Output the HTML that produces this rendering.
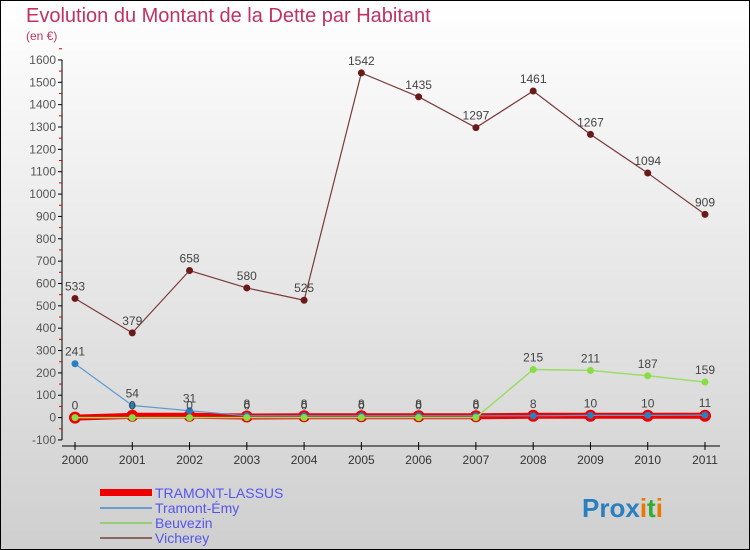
<!DOCTYPE html>
<html><head><meta charset="utf-8"><style>
body{margin:0}
#c{width:750px;height:550px;position:relative;font-family:"Liberation Sans",sans-serif;background:linear-gradient(#fff,#cfcfcf);box-sizing:border-box;border:1px solid #000;overflow:hidden}
</style></head><body>
<div id="c">
<svg id="s" width="750" height="550" style="position:absolute;left:-1px;top:-1px">
<text x="26" y="22" font-size="20" fill="#c0335f">Evolution du Montant de la Dette par Habitant</text>
<text x="26" y="40" font-size="12" fill="#c0335f">(en €)</text>
<g id="axes"></g><g id="series"></g>
<g>
<rect x="100" y="489" width="52" height="7" fill="#e00"/>
<text x="155" y="498" font-size="14" fill="#5555ee">TRAMONT-LASSUS</text>
<rect x="100" y="507" width="52" height="2" fill="#6a9ec8"/>
<text x="155" y="513" font-size="14" fill="#5555ee">Tramont-Émy</text>
<rect x="100" y="522" width="52" height="2" fill="#99cc77"/>
<text x="155" y="528" font-size="14" fill="#5555ee">Beuvezin</text>
<rect x="100" y="537" width="52" height="2" fill="#8b6464"/>
<text x="155" y="543" font-size="14" fill="#5555ee">Vicherey</text>
</g>
<g font-size="26" font-weight="bold">
<text x="582" y="517"><tspan fill="#2a7fc0">Pro</tspan><tspan fill="#2a7fc0">x</tspan><tspan fill="#ee7700">i</tspan><tspan fill="#33aa33">t</tspan><tspan fill="#ee7700">i</tspan></text>
</g>
</svg></div>
<script>
const years=["2000","2001","2002","2003","2004","2005","2006","2007","2008","2009","2010","2011"];
const yTicks=[-100,0,100,200,300,400,500,600,700,800,900,1000,1100,1200,1300,1400,1500,1600];
const lassus=[0,8,8,5,6,6,6,6,8,8,8,8];
const emy=[241,54,31,8,8,8,8,8,8,10,10,11];
const beuvezin=[0,0,0,0,0,0,0,0,215,211,187,159];
const vicherey=[533,379,658,580,525,1542,1435,1297,1461,1267,1094,909];
const NS="http://www.w3.org/2000/svg";
const X=i=>75+i*(630/11);
const Y=v=>417.6-v*(380/1700);
function mk(t,a,p){const e=document.createElementNS(NS,t);for(const k in a)e.setAttribute(k,a[k]);p.appendChild(e);return e;}
const ax=document.getElementById('axes'),sg=document.getElementById('series');
const yl=mk('line',{x1:62,x2:62,y1:Y(1600),y2:Y(-100),stroke:'#000'},ax);


yTicks.forEach(v=>{
 mk('line',{x1:58,x2:62,y1:Y(v),y2:Y(v),stroke:'#000'},ax);
 mk('line',{x1:59,x2:62,y1:Y(v+50),y2:Y(v+50),stroke:'#d00'},ax);
 const t=mk('text',{x:56,y:Y(v)+4,'text-anchor':'end','font-size':12,fill:'#555'},ax);t.textContent=v;
 
 
});
const xl=mk('line',{x1:62,x2:720,y1:446,y2:446,stroke:'#000'},ax);


years.forEach((y,i)=>{
 mk('line',{x1:X(i),x2:X(i),y1:442,y2:450,stroke:'#000'},ax);
 const t=mk('text',{x:X(i),y:464,'text-anchor':'middle','font-size':12,fill:'#333'},ax);t.textContent=y;
 
 
});
function series(d,name,col,w,mcol,r,rs,labels){
 const g=mk('g',{},sg);
 
 
 mk('polyline',{points:d.map((v,i)=>X(i)+','+Y(v)).join(' '),fill:'none',stroke:col,'stroke-width':w},g);
 d.forEach((v,i)=>{
  const c=mk('circle',{cx:X(i),cy:Y(v),r:r,fill:mcol,stroke:rs||'none','stroke-width':rs?3:0},g);
  
  
  if(labels){const t=mk('text',{x:X(i),y:Y(v)-8,'text-anchor':'middle','font-size':12,fill:'#444'},g);t.textContent=v;
  
  }
 });
}
series(vicherey,'vicherey','#7a3a3a',1.2,'#6b1a1a',3.5,null,true);
series(lassus,'tramont-lassus','#ee0000',6,'#ee0000',6,null,false);
series(emy,'tramont-emy','#5a9ad0',1.2,'#2a7fc0',3.5,null,true);
series(beuvezin,'beuvezin','#99dd66',1.5,'#88dd44',3.5,null,true);
</script>
</body></html>
